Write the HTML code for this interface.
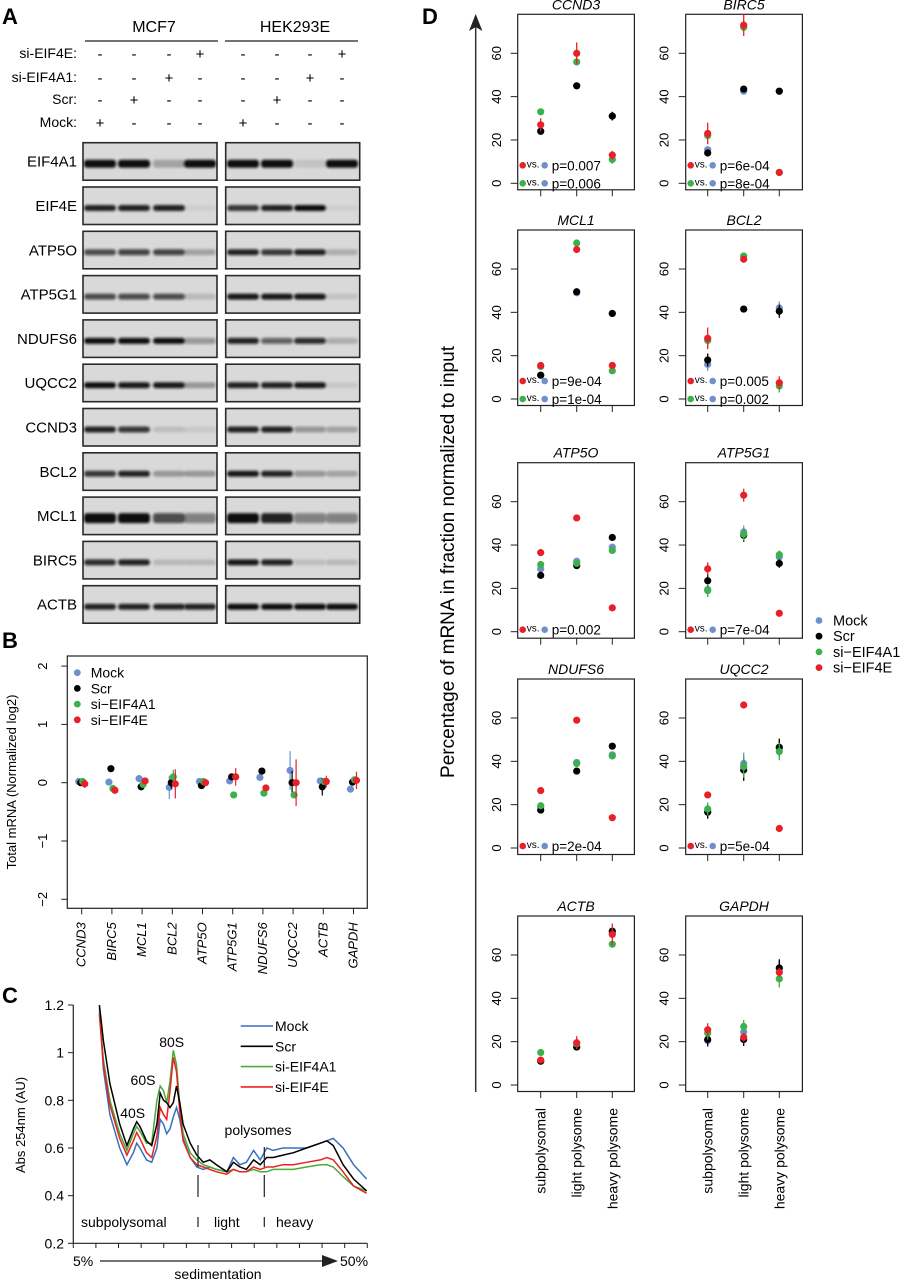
<!DOCTYPE html>
<html><head><meta charset="utf-8"><style>
body{margin:0;background:#fff;}
svg{display:block;font-family:"Liberation Sans",sans-serif;}
</style></head><body>
<svg id="fig" width="902" height="1280" viewBox="0 0 902 1280" xmlns="http://www.w3.org/2000/svg">
<defs><filter id="blur" x="-20%" y="-100%" width="140%" height="300%"><feGaussianBlur stdDeviation="1.3"/></filter></defs>
<g id="panelA"></g>
<g id="panelB"></g>
<g id="panelC"></g>
<g id="panelD"></g>
</svg>
<script>
// ---------- Panel A data ----------
const blotRows = ["EIF4A1","EIF4E","ATP5O","ATP5G1","NDUFS6","UQCC2","CCND3","BCL2","MCL1","BIRC5","ACTB"];
const bandEIF4A1 = [1,1,0.25,1, 1,1,0.1,1];
const bandEIF4E  = [0.9,0.9,0.9,0.05, 0.8,0.9,1,0.05];
const bandATP5O  = [0.7,0.75,0.75,0.25, 0.9,0.8,0.9,0.2];
const bandATP5G1 = [0.7,0.7,0.7,0.15, 0.95,0.95,0.95,0.1];
const bandNDUFS6 = [1,1,1,0.35, 0.9,0.6,0.85,0.2];
const bandUQCC2  = [1,0.95,0.95,0.3, 0.9,0.9,0.95,0.08];
const bandCCND3  = [0.9,0.8,0.12,0.08, 0.9,0.9,0.3,0.25];
const bandBCL2   = [0.8,0.9,0.3,0.3, 0.95,0.9,0.3,0.25];
const bandMCL1   = [1,1,0.7,0.45, 1,0.9,0.45,0.45];
const bandBIRC5  = [0.85,0.9,0.15,0.15, 0.95,0.9,0.12,0.15];
const bandACTB   = [0.9,0.9,0.9,0.9, 1,1,1,1];
const treatLabels = ["si-EIF4E:","si-EIF4A1:","Scr:","Mock:"];
const treatSigns = [["-","-","-","+","-","-","-","+"],["-","-","+","-","-","-","+","-"],["-","+","-","-","-","+","-","-"],["+","-","-","-","+","-","-","-"]];

// ---------- Panel B data ----------
const bGenes = ["CCND3","BIRC5","MCL1","BCL2","ATP5O","ATP5G1","NDUFS6","UQCC2","ACTB","GAPDH"];
const bMock  = [0.02,0.01,0.07,-0.08,0.02,0.03,0.09,0.21,0.03,-0.11];
const bScr   = [0,0.24,-0.07,0,-0.05,0.1,0.2,0,-0.07,0.01];
const bA1    = [0.02,-0.1,-0.03,0.1,0.02,-0.21,-0.18,-0.21,0.02,0.05];
const bE     = [-0.02,-0.13,0.03,-0.02,0,0.1,-0.09,0,0.02,0.04];
const bErrMock = [0.03,0.02,0.02,0.2,0.02,0.05,0.02,0.33,0.02,0.06];
const bErrScr  = [0.05,0.02,0.03,0.1,0.02,0.05,0.02,0.2,0.15,0.03];
const bErrA1   = [0.03,0.02,0.03,0.12,0.02,0.03,0.02,0.05,0.02,0.05];
const bErrE    = [0.07,0.02,0.02,0.25,0.02,0.15,0.02,0.4,0.1,0.15];
const bTicks = [2,1,0,-1,-2];

// ---------- Panel C data ----------
const cPos = [9,9.6,10.6,12.1,13.2,14.2,14.7,15.2,16.2,17,17.8,18.3,18.8,19.3,19.8,20.3,20.8,21.3,21.8,22.9,23.9,24.9,25.9,26.9,28.5,29.5,30.5,31.5,32.6,33.6,34.6,35.6,37.1,38.7,40.7,42.8,43.8,44.8,46.3,47.9,49.9];
const cMock = [1.19,0.93,0.74,0.60,0.53,0.58,0.62,0.60,0.55,0.54,0.60,0.72,0.70,0.66,0.68,0.73,0.77,0.72,0.64,0.56,0.52,0.51,0.52,0.51,0.50,0.56,0.53,0.54,0.59,0.55,0.60,0.59,0.60,0.60,0.60,0.62,0.63,0.64,0.60,0.53,0.47];
const cScr  = [1.2,1.05,0.87,0.70,0.61,0.68,0.71,0.69,0.63,0.61,0.70,0.83,0.80,0.79,0.77,0.79,0.86,0.79,0.70,0.62,0.57,0.54,0.55,0.53,0.50,0.54,0.52,0.51,0.55,0.53,0.56,0.56,0.57,0.58,0.60,0.62,0.63,0.61,0.53,0.47,0.42];
const cA1   = [1.17,0.97,0.80,0.66,0.59,0.66,0.69,0.67,0.62,0.62,0.80,0.86,0.84,0.79,0.88,1.01,0.95,0.78,0.66,0.58,0.55,0.53,0.52,0.51,0.50,0.51,0.50,0.50,0.51,0.50,0.50,0.51,0.51,0.51,0.52,0.53,0.53,0.52,0.48,0.44,0.42];
const cE    = [1.16,0.95,0.78,0.64,0.57,0.63,0.665,0.64,0.58,0.56,0.65,0.77,0.74,0.72,0.84,0.98,0.92,0.75,0.63,0.56,0.53,0.52,0.51,0.50,0.49,0.51,0.50,0.50,0.52,0.51,0.52,0.52,0.53,0.53,0.54,0.55,0.56,0.55,0.50,0.44,0.41];
const cTicks = [1.2,1,0.8,0.6,0.4,0.2];

// ---------- Panel D data ----------
const dGenes = ["CCND3","BIRC5","MCL1","BCL2","ATP5O","ATP5G1","NDUFS6","UQCC2","ACTB","GAPDH"];
const dFractions = ["subpolysomal","light polysome","heavy polysome"];
const dMock = [[24,45,31],[15.5,42.5,42.5],[11,49,39.5],[16,41.5,42],[29,32.5,39],[19.5,46,34.5],[19,39.5,43],[17,39,46],[11,18,70],[20.5,24.5,54]];
const dScr  = [[24,45,31],[14,43.5,42.5],[11,49.5,39.5],[18,41.5,40.5],[26,30.5,43.5],[23.5,44.5,31.5],[17.5,35.5,47],[16.5,36,46.5],[11,17.5,71],[21,21,54]];
const dA1   = [[33,56,11],[22,72,5],[15,72,13],[27,66,6],[31,31.5,37.5],[19,45,35.5],[19.5,39,42.5],[18,37.5,44.5],[15,19,65],[24,27,49]];
const dE    = [[27,60,13],[23,73,5],[15.5,69,15.5],[28,64.5,7.5],[36.5,52.5,11],[29,63,8.5],[26.5,59,14],[24.5,66,9],[11.5,19.5,69.5],[25.5,22,52]];
const dErrE = [[3,5,2],[5,5,1],[1,1,1],[5,1,3],[1,1,1],[3,3,1],[1,1,1],[1,1,1],[1,3,5],[3,2,2]];
const dErrOther = [[1,1,2],[1,1,1],[1,1,1],[3,1,3],[1,1,1],[3,3,2],[1,1,1],[3,5,4],[1,1,1],[3,3,4]];
const dPRed = ["0.007","6e-04","9e-04","0.005","0.002","7e-04","2e-04","5e-04","",""];
const dPGreen = ["0.006","8e-04","1e-04","0.002","","","","","",""];
const dTicks = [0,20,40,60];

const NS="http://www.w3.org/2000/svg";
const COL={mock:"#6f8fcf",scr:"#000",a1:"#3cb04a",e:"#e8202a"};
function mk(tag,attrs,parent,txt){const e=document.createElementNS(NS,tag);for(const k in attrs)e.setAttribute(k,attrs[k]);if(txt!==undefined)e.textContent=txt;parent.appendChild(e);return e;}

// ======== Panel A ========
(function(){
const g=document.getElementById('panelA');
let t=mk('text',{x:2,y:24,'font-size':22,'font-weight':'bold'},g,'A');

const heads=[["MCF7",154,85,218],["HEK293E",295,225,358]];
heads.forEach(h=>{let e=mk('text',{x:h[1],y:32,'font-size':16,'text-anchor':'middle'},g,h[0]);

let l=mk('line',{x1:h[2],x2:h[3],y1:41,y2:41,stroke:'#222','stroke-width':1.2},g);
});
const lanes=[100,134,169,200,243,277,310,342];
const ty=[53,77,99,122];
treatLabels.forEach((lab,i)=>{let e=mk('text',{x:77,y:ty[i]+5,'font-size':14,'text-anchor':'end'},g,lab);

treatSigns[i].forEach((s,j)=>{let e2=mk('text',{x:lanes[j],y:ty[i]+6,'font-size':15,'text-anchor':'middle'},g,s);
});});
const bands=[bandEIF4A1,bandEIF4E,bandATP5O,bandATP5G1,bandNDUFS6,bandUQCC2,bandCCND3,bandBCL2,bandMCL1,bandBIRC5,bandACTB];
blotRows.forEach((name,r)=>{const top=142.7+r*44.3;
let e=mk('text',{x:77,y:top+24,'font-size':15,'text-anchor':'end'},g,name);

[[83,134],[225.7,134]].forEach(p=>{let b=mk('rect',{x:p[0],y:top,width:p[1],height:37.5,fill:'#d9d9d9',stroke:'#2a2a2a','stroke-width':1.6},g);
});
bands[r].forEach((v,j)=>{const th=(name==="MCL1"?10:name==="EIF4A1"?8:6);
let b=mk('rect',{x:lanes[j]-16,y:top+19-th/2+2,width:32,height:th,rx:3,fill:'#111','fill-opacity':v,filter:'url(#blur)'},g);
});});
})();

// ======== Panel B ========
(function(){
const g=document.getElementById('panelB');
let t=mk('text',{x:2,y:648,'font-size':22,'font-weight':'bold'},g,'B');

const L=67.3,R=367.3,T=656,Bt=908.3;
const y=v=>782.7-v*58.3;
const x=i=>81.7+i*30.2;
let box=mk('rect',{x:L,y:T,width:R-L,height:Bt-T,fill:'none',stroke:'#222','stroke-width':1.2},g);

bTicks.forEach(v=>{let l=mk('line',{x1:L,x2:L-6,y1:y(v),y2:y(v),stroke:'#222'},g);

let e=mk('text',{x:0,y:0,'font-size':13,'text-anchor':'middle',transform:`translate(47,${y(v)}) rotate(-90)`},g,v<0?'\u2212'+(-v):String(v));
});
let yt=mk('text',{x:0,y:0,'font-size':13,'text-anchor':'middle',transform:'translate(16,782) rotate(-90)'},g,'Total mRNA (Normalized log2)');

bGenes.forEach((gn,i)=>{let l=mk('line',{x1:x(i),x2:x(i),y1:Bt,y2:Bt+6,stroke:'#222'},g);

let e=mk('text',{x:0,y:0,'font-size':13,'font-style':'italic','text-anchor':'end',transform:`translate(${x(i)+4},${Bt+14}) rotate(-90)`},g,gn);
});
const series=[[bMock,bErrMock,COL.mock,-3],[bScr,bErrScr,COL.scr,-1],[bA1,bErrA1,COL.a1,1],[bE,bErrE,COL.e,3]];
series.forEach(s=>{s[0].forEach((v,i)=>{const cx=x(i)+s[3];
let l=mk('line',{x1:cx,x2:cx,y1:y(v-s[1][i]),y2:y(v+s[1][i]),stroke:s[2],'stroke-width':1.2},g);

let c=mk('circle',{cx:cx,cy:y(v),r:3.6,fill:s[2]},g);
});});
const legN=["Mock","Scr","si\u2212EIF4A1","si\u2212EIF4E"],legC=[COL.mock,COL.scr,COL.a1,COL.e];
legN.forEach((n,i)=>{const yy=672.7+i*15.7;
let c=mk('circle',{cx:77.3,cy:yy,r:3.4,fill:legC[i]},g);
let e=mk('text',{x:90.7,y:yy+5,'font-size':14},g,n);});
})();

// ======== Panel C ========
(function(){
const g=document.getElementById('panelC');
let t=mk('text',{x:2,y:1003,'font-size':22,'font-weight':'bold'},g,'C');

const x=p=>73.3+(p-5)/45*294;
const y=v=>1243.3-(v-0.2)/1.0*238.3;
let ax=mk('path',{d:`M73.3,1005 V1243.3 H367.3`,fill:'none',stroke:'#222','stroke-width':1.2},g);

cTicks.forEach(v=>{let l=mk('line',{x1:73.3,x2:68,y1:y(v),y2:y(v),stroke:'#222'},g);

let e=mk('text',{x:64,y:y(v)+5,'font-size':14,'text-anchor':'end'},g,String(v));
});
for(let i=0;i<=13;i++){const xx=73.3+i*294/13;let l=mk('line',{x1:xx,x2:xx,y1:1243.3,y2:1248,stroke:'#222'},g);
}
let yt=mk('text',{x:0,y:0,'font-size':13,'text-anchor':'middle',transform:'translate(25,1125) rotate(-90)'},g,'Abs 254nm (AU)');

const series=[[cMock,'#3a6fc0'],[cScr,'#000'],[cA1,'#4caa3a'],[cE,'#e8231f']];
const order=[0,2,3,1];
order.forEach(k=>{const s=series[k];let d=s[0].map((v,i)=>(i?'L':'M')+x(cPos[i]).toFixed(1)+','+y(v).toFixed(1)).join(' ');
let p=mk('path',{d:d,fill:'none',stroke:s[1],'stroke-width':1.5},g);
});
const legN=["Mock","Scr","si-EIF4A1","si-EIF4E"],legC=['#3a6fc0','#000','#4caa3a','#e8231f'];
legN.forEach((n,i)=>{const yy=1026+i*20.3;
let l=mk('line',{x1:240.7,x2:273,y1:yy,y2:yy,stroke:legC[i],'stroke-width':1.6},g);
let e=mk('text',{x:275,y:yy+5,'font-size':14},g,n);});
const ann=[["40S",132.7,1118],["60S",143,1085],["80S",171.7,1047],["polysomes",258,1135]];
ann.forEach(a=>{let e=mk('text',{x:a[1],y:a[2],'font-size':14,'text-anchor':'middle'},g,a[0]);});
[198,264.3].forEach(xx=>{let l=mk('line',{x1:xx,x2:xx,y1:1175,y2:1197,stroke:'#222','stroke-width':1.2},g);
let l2=mk('line',{x1:xx,x2:xx,y1:1217,y2:1227,stroke:'#222','stroke-width':1.2},g);});
[[198,1145,1167],[264.3,1147,1167]].forEach(a=>{let l=mk('line',{x1:a[0],x2:a[0],y1:a[1],y2:a[2],stroke:'#222','stroke-width':1.2},g);});
[["subpolysomal",81,1227,'start'],["light",214,1227,'start'],["heavy",276,1227,'start']].forEach(a=>{let e=mk('text',{x:a[1],y:a[2],'font-size':14,'text-anchor':a[3]},g,a[0]);});
let e5=mk('text',{x:73,y:1266,'font-size':14},g,'5%');
let e50=mk('text',{x:340,y:1266,'font-size':14},g,'50%');
let ar=mk('line',{x1:100,x2:325,y1:1261,y2:1261,stroke:'#222','stroke-width':1.3},g);
let ah=mk('polygon',{points:'322,1255 338,1261 322,1267',fill:'#222'},g);
let st=mk('text',{x:218,y:1279,'font-size':14,'text-anchor':'middle'},g,'sedimentation');
})();

// ======== Panel D ========
(function(){
const g=document.getElementById('panelD');
let t=mk('text',{x:422,y:24,'font-size':22,'font-weight':'bold'},g,'D');

let ax=mk('line',{x1:475.7,x2:475.7,y1:26,y2:1092,stroke:'#333','stroke-width':1.5},g);
let ah=mk('polygon',{points:'475.7,14 469,31 475.7,27 482.4,31',fill:'#222'},g);
let yt=mk('text',{x:0,y:0,'font-size':19,'text-anchor':'middle',transform:'translate(454,562) rotate(-90)'},g,'Percentage of mRNA in fraction normalized to input');

const tops=[14.3,230,462.7,679,916];
const lefts=[517.7,685.7];
const catX=[[540.7,576.7,612.3],[707.7,743.7,779.3]];
const labX=[497,664.3];
dGenes.forEach((gn,k)=>{const r=Math.floor(k/2),c=k%2;const top=tops[r],L=lefts[c];
const y=v=>top+169-v*130/60;
let tt=mk('text',{x:L+58.3,y:top-5,'font-size':14,'font-style':'italic','text-anchor':'middle'},g,gn);

let box=mk('rect',{x:L,y:top,width:116.7,height:175.5,fill:'none',stroke:'#222','stroke-width':1.2},g);

dTicks.forEach(v=>{let l=mk('line',{x1:L,x2:L-7,y1:y(v),y2:y(v),stroke:'#222'},g);
let e=mk('text',{x:0,y:0,'font-size':13,'text-anchor':'middle',transform:`translate(${labX[c]+4},${y(v)}) rotate(-90)`},g,String(v));});
dFractions.forEach((f,i)=>{let l=mk('line',{x1:catX[c][i],x2:catX[c][i],y1:top+175.5,y2:top+182,stroke:'#222'},g);
if(r===4){let e=mk('text',{x:0,y:0,'font-size':14,'text-anchor':'end',transform:`translate(${catX[c][i]+5},${top+192}) rotate(-90)`},g,f);}});
const series=[[dMock,dErrOther,COL.mock],[dScr,dErrOther,COL.scr],[dA1,dErrOther,COL.a1],[dE,dErrE,COL.e]];
series.forEach(s=>{s[0][k].forEach((v,i)=>{const cx=catX[c][i];const er=s[1][k][i];
let l=mk('line',{x1:cx,x2:cx,y1:y(v-er),y2:y(v+er),stroke:s[2],'stroke-width':1.3},g);
let p=mk('circle',{cx:cx,cy:y(v),r:3.6,fill:s[2]},g);});});
const lines=[];
if(dPRed[k]) lines.push([COL.e,dPRed[k]]);
if(dPGreen[k]) lines.push([COL.a1,dPGreen[k]]);
lines.forEach((ln,j)=>{const yy=lines.length===2?(j===0?top+151:top+169):top+167;
let a=mk('circle',{cx:L+5,cy:yy,r:3.3,fill:ln[0]},g);
let v=mk('text',{x:L+9,y:yy+2,'font-size':10},g,'vs.');
let b=mk('circle',{cx:L+27,cy:yy,r:3.3,fill:COL.mock},g);
let p=mk('text',{x:L+34,y:yy+5,'font-size':13.5},g,'p='+ln[1]);});
});
const legN=["Mock","Scr","si\u2212EIF4A1","si\u2212EIF4E"],legC=[COL.mock,COL.scr,COL.a1,COL.e];
legN.forEach((n,i)=>{const yy=620.5+i*15.7;
let c=mk('circle',{cx:819,cy:yy,r:3.4,fill:legC[i]},g);
let e=mk('text',{x:833,y:yy+5,'font-size':14.5},g,n);});
})();
</script>
</body></html>
